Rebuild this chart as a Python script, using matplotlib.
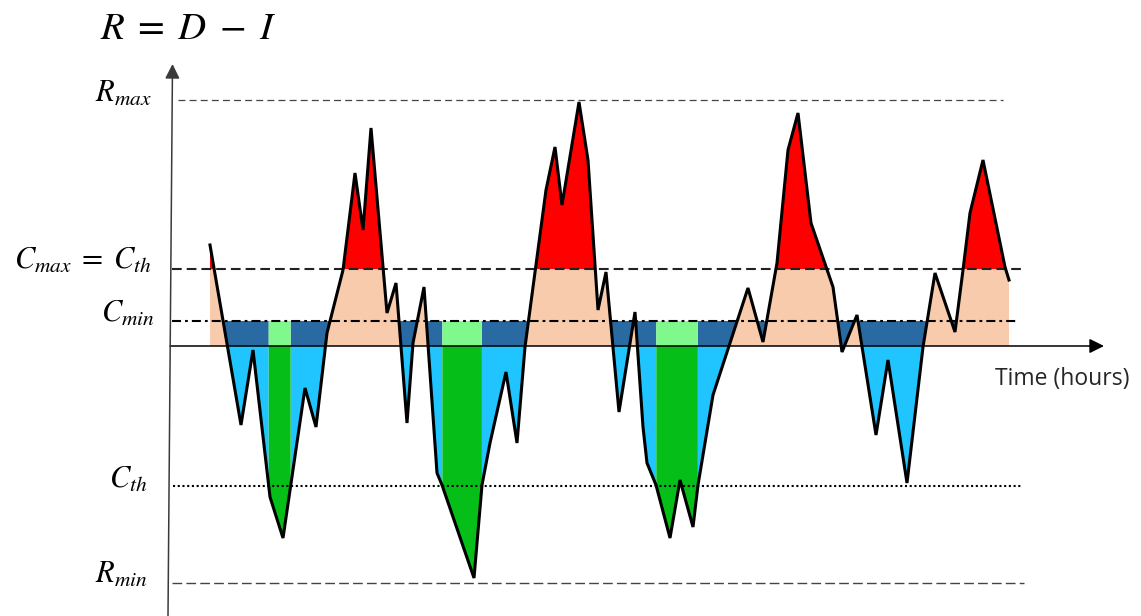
import numpy as np
import matplotlib
matplotlib.use('Agg')
import matplotlib.pyplot as plt

plt.rcParams['mathtext.fontset'] = 'stix'
plt.rcParams['lines.scale_dashes'] = False

# residual load R = D - I, sampled at the corners of the profile
t_hours = [3.8, 6.9, 8.1, 9.8, 11.1, 13.3, 14.4, 15.5, 17.1, 18.3, 19.1, 19.9,
           21.5, 22.4, 23.5, 24.1, 25.2, 26.5, 27.0, 30.2, 31.0, 31.8, 33.4,
           34.5, 35.3, 37.4, 38.3, 39.0, 40.7, 41.6, 42.6, 43.4, 44.7, 46.3,
           47.1, 47.5, 48.4, 49.8, 50.8, 52.1, 52.6, 54.1, 57.6, 59.1, 60.5,
           61.6, 62.6, 63.9, 66.1, 67.0, 68.5, 70.4, 71.6, 73.5, 75.1, 76.3,
           78.3, 79.1, 79.8, 81.1, 83.3, 83.7]
residual = [10.1, -7.9, -0.4, -15.1, -19.2, -4.2, -8.1, 1.3, 7.6, 17.3, 11.6,
            21.8, 3.3, 6.3, -7.7, 0.3, 5.9, -12.7, -13.9, -23.2, -13.9, -9.7,
            -2.6, -9.7, -0.1, 15.6, 19.9, 14.1, 24.4, 18.6, 3.6, 7.4, -6.6,
            3.4, -8.1, -11.7, -13.9, -19.2, -13.4, -18.1, -13.9, -4.9, 5.8,
            0.4, 8.3, 19.6, 23.3, 12.3, 5.9, -0.6, 3.1, -8.9, -1.4, -13.7,
            -0.1, 7.3, 1.4, 7.6, 13.3, 18.6, 7.9, 6.6]

R_max = 24.6
C_max = 7.7
C_min = 2.5
C_th = -14.0
R_min = -23.7

peach = '#F8CBAD'
red = '#FF0000'
dark_blue = '#2A6AA2'
light_blue = '#20C4FF'
green = '#05BF18'
light_green = '#7FF88C'

fig = plt.figure(figsize=(11.41, 6.16), dpi=100)
ax = fig.add_axes([0, 0, 1, 1])
ax.set_xlim(-17.2, 96.9)
ax.set_ylim(-27.0, 34.6)
ax.axis('off')

# fine grid so the where= masks give clean edges
xs = np.linspace(t_hours[0], t_hours[-1], 20000)
rs = np.interp(xs, t_hours, residual)

# green band: inside each negative run, from first to last point under C_th
band = np.zeros_like(xs, dtype=bool)
neg = rs < 0
i = 0
while i < len(xs):
    if neg[i]:
        j = i
        while j < len(xs) and neg[j]:
            j += 1
        below = np.where(rs[i:j] < C_th)[0]
        if len(below):
            band[i + below[0]:i + below[-1] + 1] = True
        i = j
    else:
        i += 1

ax.fill_between(xs, 0, np.minimum(rs, C_max), where=rs > 0, color=peach, lw=0)
ax.fill_between(xs, C_max, rs, where=rs > C_max, color=red, lw=0)
ax.fill_between(xs, np.maximum(rs, 0), C_min, where=(rs < C_min) & ~band,
                color=dark_blue, lw=0)
ax.fill_between(xs, 0, C_min, where=band, color=light_green, lw=0)
ax.fill_between(xs, rs, 0, where=(rs < 0) & ~band, color=light_blue, lw=0)
ax.fill_between(xs, rs, 0, where=band, color=green, lw=0)

# reference levels
ax.plot([0.6, 83.1], [R_max, R_max], color='#444444', lw=0.9, dashes=(5, 3))
ax.plot([0, 84.9], [C_max, C_max], color='#222222', lw=1.5, dashes=(7, 3.6))
ax.plot([0, 84.6], [C_min, C_min], color='black', lw=1.5,
        dashes=(6.5, 2.9, 2, 2.9))
ax.plot([0.1, 85.0], [C_th, C_th], color='black', lw=1.5, dashes=(1.5, 1.9))
ax.plot([0, 85.2], [R_min, R_min], color='#444444', lw=1.0, dashes=(7, 3))

ax.plot(t_hours, residual, color='black', lw=2.2, solid_joinstyle='miter',
        zorder=5)

# axes with arrow heads
ax.annotate('', xy=(93.2, 0), xytext=(-0.2, 0),
            arrowprops=dict(arrowstyle='-|>', color='black', lw=1.1,
                            mutation_scale=22, shrinkA=0, shrinkB=0))
ax.annotate('', xy=(0.05, 28.2), xytext=(-0.4, -27.0),
            arrowprops=dict(arrowstyle='-|>', color='#3a3a3a', lw=1.1,
                            mutation_scale=22, shrinkA=0, shrinkB=0))

lab = dict(ha='right', va='baseline', fontsize=22, color='black')
ax.text(-2.0, R_max - 0.2, r'$R_{max}$', **lab)
ax.text(-2.0, C_max, r'$C_{max}\;=\;C_{th}$', **lab)
ax.text(-1.7, C_min - 0.1, r'$C_{min}$', **lab)
ax.text(-2.5, C_th - 0.2, r'$C_{th}$', **lab)
ax.text(-2.4, R_min, r'$R_{min}$', **lab)

ax.text(-7.2, 30.7, r'$R\;=\;D\;-\;I$', ha='left', va='baseline', fontsize=28)
ax.text(82.3, -3.9, 'Time (hours)', ha='left', va='baseline', fontsize=16.5,
        family='Open Sans', color='#262626')

fig.savefig('out.png', dpi=100)
